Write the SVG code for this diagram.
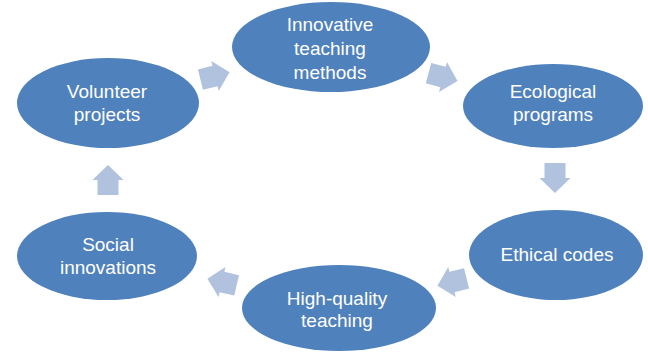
<svg xmlns="http://www.w3.org/2000/svg" xmlns:xlink="http://www.w3.org/1999/xlink" width="648" height="352" viewBox="0 0 648 352">
<style>
.node{fill:#4F81BD;}
.lbl{fill:#FFFFFF;font-family:"Liberation Sans",Arial,sans-serif;font-size:19px;text-anchor:middle;}
.arr{fill:#B0C2DE;}
</style>
<defs>
<path id="arrow" class="arr" d="M-15,-10.5 H0 V-15.5 L15,0 L0,15.5 V10.5 H-15 Z"/>
</defs>
<rect width="648" height="352" fill="#FFFFFF"/>
<g id="connectors">
<use xlink:href="#arrow" href="#arrow" transform="translate(215,76) rotate(-14)"/>
<use xlink:href="#arrow" href="#arrow" transform="translate(443,77) rotate(15)"/>
<use xlink:href="#arrow" href="#arrow" transform="translate(555,178) rotate(90)"/>
<use xlink:href="#arrow" href="#arrow" transform="translate(452,282) rotate(166)"/>
<use xlink:href="#arrow" href="#arrow" transform="translate(222,282) rotate(-167)"/>
<use xlink:href="#arrow" href="#arrow" transform="translate(108,180) rotate(-90)"/>
</g>
<g id="innovative">
<ellipse class="node" cx="331" cy="47" rx="99" ry="45"/>
<text class="lbl" x="330" y="31">Innovative</text>
<text class="lbl" x="330" y="55">teaching</text>
<text class="lbl" x="330" y="79">methods</text>
</g>
<g id="ecological">
<ellipse class="node" cx="553" cy="106" rx="90" ry="42"/>
<text class="lbl" x="553" y="98">Ecological</text>
<text class="lbl" x="553" y="121">programs</text>
</g>
<g id="ethical">
<ellipse class="node" cx="556" cy="255" rx="87" ry="45"/>
<text class="lbl" x="557" y="261">Ethical codes</text>
</g>
<g id="highquality">
<ellipse class="node" cx="339" cy="308" rx="97" ry="43"/>
<text class="lbl" x="337" y="305">High-quality</text>
<text class="lbl" x="337" y="327">teaching</text>
</g>
<g id="social">
<ellipse class="node" cx="107" cy="256" rx="90" ry="44"/>
<text class="lbl" x="108" y="251">Social</text>
<text class="lbl" x="108" y="274">innovations</text>
</g>
<g id="volunteer">
<ellipse class="node" cx="108" cy="103" rx="91" ry="45"/>
<text class="lbl" x="107" y="98">Volunteer</text>
<text class="lbl" x="107" y="121">projects</text>
</g>
</svg>
